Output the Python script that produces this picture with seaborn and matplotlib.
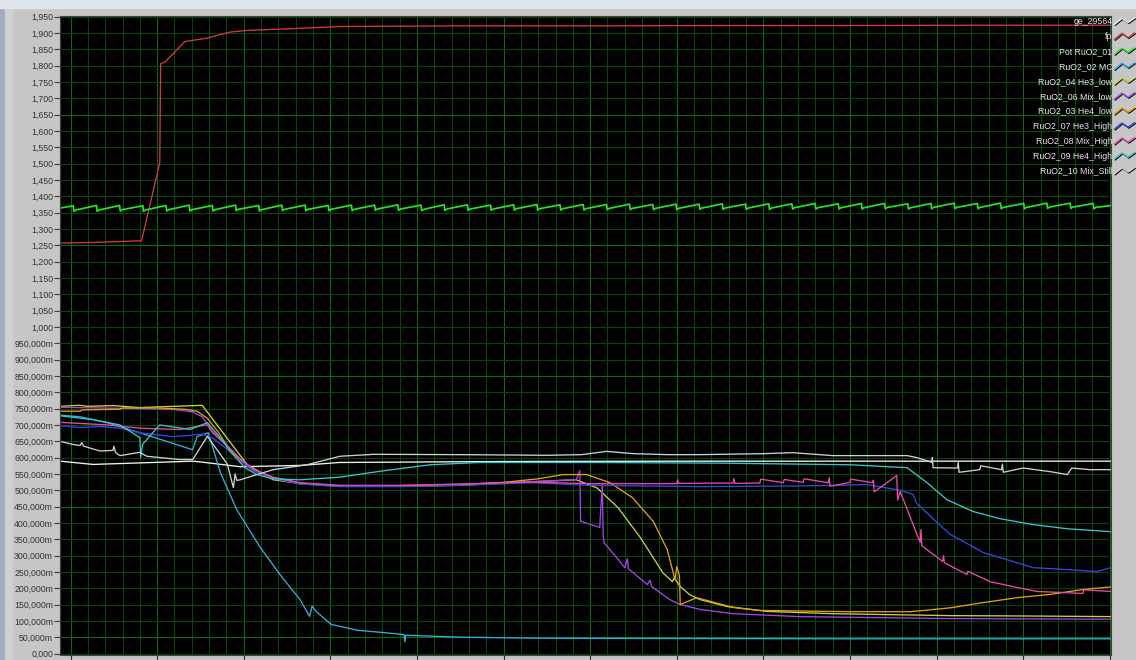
import numpy as np
import pandas as pd
import matplotlib
matplotlib.use("Agg")
import matplotlib.pyplot as plt
import matplotlib.patheffects as pe
from matplotlib.legend_handler import HandlerBase
from matplotlib.lines import Line2D
from matplotlib.patches import Rectangle
from matplotlib.ticker import MultipleLocator
import seaborn as sns

# time axis in minutes, one major division = 10 min
names = ['ge_29564', 'fp', 'Pot RuO2_01', 'RuO2_02 MC', 'RuO2_04 He3_low', 'RuO2_06 Mix_low',
         'RuO2_03 He4_low', 'RuO2_07 He3_High', 'RuO2_08 Mix_High', 'RuO2_09 He4_High',
         'RuO2_10 Mix_Still']
colors = ['#f2f2f2', '#d23a3a', '#22e622', '#36acdf', '#c6d43a', '#a242e8',
          '#e2a006', '#3446e4', '#e84aa8', '#36c6c6', '#cfcfcf']

ge_t = [-1.22, 2.6, 14.1, 15.2, 19.6, 26.5, 31.1, 50, 70, 90, 120.14]
ge_v = [0.589, 0.579, 0.589, 0.586, 0.572, 0.576, 0.585, 0.588, 0.589, 0.589, 0.589]

fp_t = [-1.22, 3.0, 8.2, 10.3, 10.4, 10.9, 13.2, 15.7, 18.4, 20.4, 26.0, 31.1, 45, 60, 75, 90, 105, 120.14]
fp_v = [1.257, 1.259, 1.264, 1.503, 1.806, 1.811, 1.874, 1.884, 1.903, 1.908, 1.914, 1.920,
        1.922, 1.922, 1.923, 1.923, 1.924, 1.924]

# Pot RuO2_01 sawtooth: tooth times, peak and trough values
pot_teeth = [0.31, 2.99, 5.66, 8.34, 11.02, 13.70, 16.37, 19.05, 21.73, 24.40, 27.08, 29.76,
             32.43, 35.11, 37.79, 40.46, 43.14, 45.82, 48.49, 51.17, 53.85, 56.52, 59.20,
             61.88, 64.55, 67.23, 69.91, 72.59, 75.26, 77.94, 80.62, 83.29, 85.97, 88.65,
             91.32, 94.00, 96.68, 99.35, 102.03, 104.71, 107.38, 110.06, 112.74, 115.41, 118.09]
pot_hi = [1.371, 1.372, 1.372, 1.371, 1.372, 1.373, 1.372, 1.373, 1.372, 1.373, 1.373, 1.372,
          1.373, 1.373, 1.374, 1.373, 1.374, 1.374, 1.373, 1.374, 1.375, 1.374, 1.375, 1.375,
          1.376, 1.375, 1.376, 1.376, 1.377, 1.376, 1.377, 1.377, 1.378, 1.377, 1.378, 1.378,
          1.377, 1.378, 1.379, 1.378, 1.379, 1.378, 1.379, 1.379, 1.378]
pot_lo = [1.358, 1.358, 1.359, 1.358, 1.359, 1.359, 1.359, 1.360, 1.359, 1.360, 1.360, 1.360,
          1.360, 1.361, 1.361, 1.360, 1.361, 1.361, 1.361, 1.362, 1.362, 1.362, 1.362, 1.363,
          1.363, 1.363, 1.363, 1.364, 1.364, 1.364, 1.364, 1.365, 1.365, 1.365, 1.365, 1.366,
          1.365, 1.366, 1.366, 1.366, 1.366, 1.366, 1.367, 1.367, 1.366]
pot_start, pot_end = 1.364, 1.372

mc_t = [-1.22, 1.1, 4.2, 8.0, 14.1, 14.6, 15.9, 17.3, 19.2, 21.9, 24.2, 26.5, 27.6, 27.9, 28.3,
        30.1, 33.2, 36.2, 38.5, 38.6, 38.7, 40.7, 45.1, 53.9, 70, 90, 120.14]
mc_v = [0.730, 0.725, 0.707, 0.676, 0.624, 0.664, 0.676, 0.554, 0.440, 0.325, 0.241, 0.165,
        0.114, 0.146, 0.130, 0.089, 0.071, 0.064, 0.058, 0.036, 0.056, 0.054, 0.050, 0.047,
        0.046, 0.045, 0.045]

he3low_t = [-1.22, 1.0, 2.0, 5.0, 8.0, 10.0, 12.0, 15.2, 20.4, 23.4, 26.5, 31.1, 38, 45, 50, 55,
            58.4, 60.8, 63.2, 65.8, 68.4, 69.5, 69.7, 70.4, 71.5, 72.7, 75.8, 80.4, 88.0,
            101.6, 110, 120.14]
he3low_v = [0.757, 0.760, 0.757, 0.759, 0.753, 0.755, 0.757, 0.760, 0.578, 0.532, 0.521, 0.513,
            0.512, 0.515, 0.522, 0.528, 0.532, 0.507, 0.447, 0.355, 0.247, 0.220, 0.232, 0.205,
            0.180, 0.165, 0.144, 0.129, 0.122, 0.116, 0.115, 0.113]

mixlow_t = [-1.22, 3, 8, 12, 14.1, 15.2, 16.4, 18.1, 19.6, 21.1, 23.4, 26.5, 31.1, 38, 45, 50, 55,
            58.4, 58.8, 58.9, 61.1, 61.4, 61.5, 61.6, 64.0, 64.3, 64.4, 66.6, 66.9, 67.1, 69.2,
            70.4, 72.7, 76.5, 84.2, 101.6, 110, 120.14]
mixlow_v = [0.754, 0.752, 0.750, 0.747, 0.740, 0.725, 0.680, 0.635, 0.594, 0.563, 0.539, 0.522,
            0.513, 0.513, 0.518, 0.524, 0.528, 0.533, 0.560, 0.405, 0.386, 0.520, 0.360, 0.340,
            0.263, 0.290, 0.260, 0.211, 0.225, 0.205, 0.165, 0.150, 0.135, 0.122, 0.113, 0.107,
            0.106, 0.105]

he4low_t = [-1.22, 1.1, 1.3, 5.7, 6.0, 10, 13.2, 14.6, 15.8, 17, 18.1, 19.6, 21.1, 23.4, 26.5,
            31.1, 38, 45, 50, 54, 56.9, 59.6, 62.3, 64.9, 67.3, 68.9, 69.8, 70.0, 70.3, 70.4,
            72.3, 76.5, 79.6, 90.0, 97.0, 101.6, 105.4, 109.3, 113.1, 116.9, 120.14]
he4low_v = [0.742, 0.742, 0.746, 0.748, 0.752, 0.752, 0.748, 0.742, 0.720, 0.680, 0.635, 0.590,
            0.560, 0.537, 0.520, 0.512, 0.514, 0.517, 0.524, 0.535, 0.548, 0.548, 0.523, 0.477,
            0.404, 0.318, 0.226, 0.266, 0.240, 0.150, 0.171, 0.141, 0.132, 0.128, 0.128, 0.140,
            0.156, 0.171, 0.181, 0.196, 0.204]

he3high_t = [-1.22, 1.1, 3.4, 5.7, 8.0, 11.8, 13.8, 15.2, 16.4, 18.1, 19.6, 21.1, 23.4, 26.5,
             31.1, 38, 45, 53.4, 60, 72.7, 84, 92, 95.8, 97.3, 97.7, 100.1, 101.6, 102.7, 105.4,
             109.3, 111.1, 115.1, 118.5, 120.14]
he3high_v = [0.698, 0.692, 0.695, 0.690, 0.676, 0.664, 0.668, 0.672, 0.660, 0.625, 0.590, 0.560,
             0.536, 0.519, 0.511, 0.511, 0.515, 0.523, 0.515, 0.511, 0.513, 0.517, 0.500, 0.487,
             0.460, 0.400, 0.364, 0.349, 0.309, 0.278, 0.263, 0.257, 0.251, 0.263]

mixhigh_t = [-1.22, 4.2, 8.0, 12.6, 15.0, 15.8, 16.4, 18.1, 19.6, 21.1, 23.4, 26.5, 31.1, 38, 45,
             53, 60, 70, 70.1, 70.2, 76.5, 76.6, 76.7, 79.6, 79.7, 82.3, 82.4, 84.6, 84.7, 87.5,
             87.6, 87.7, 90.0, 90.1, 92.6, 92.7, 92.8, 95.4, 95.5, 95.8, 98.1, 98.2, 98.3, 100.7,
             100.8, 100.9, 103.5, 103.6, 106.2, 108.8, 111.6, 114.3, 116.9, 117.0, 120.14]
mixhigh_v = [0.708, 0.700, 0.690, 0.686, 0.697, 0.700, 0.676, 0.636, 0.596, 0.565, 0.540, 0.523,
             0.515, 0.515, 0.519, 0.525, 0.520, 0.520, 0.532, 0.521, 0.522, 0.536, 0.521, 0.522,
             0.534, 0.523, 0.533, 0.524, 0.535, 0.523, 0.538, 0.512, 0.524, 0.534, 0.523, 0.531,
             0.495, 0.545, 0.470, 0.496, 0.340, 0.380, 0.330, 0.282, 0.300, 0.278, 0.242, 0.252,
             0.220, 0.205, 0.190, 0.187, 0.184, 0.195, 0.190]

he4high_t = [-1.22, 2.6, 5.7, 8.0, 8.1, 8.3, 10.3, 13.8, 15.8, 17.3, 18.4, 20.1, 21.5, 23.4, 26.5,
             31.1, 35.7, 41.5, 47.3, 60, 75, 90, 96.6, 98.9, 101.2, 104.2, 107.3, 111.1, 115.1,
             120.14]
he4high_v = [0.728, 0.716, 0.700, 0.661, 0.600, 0.640, 0.700, 0.686, 0.707, 0.660, 0.620, 0.570,
             0.548, 0.535, 0.532, 0.540, 0.558, 0.578, 0.585, 0.585, 0.583, 0.578, 0.569, 0.523,
             0.471, 0.435, 0.413, 0.395, 0.382, 0.373]

still_t = [-1.22, 0.3, 1.1, 1.3, 1.5, 3.4, 4.9, 5.0, 5.2, 5.7, 8.0, 8.8, 12.6, 14.1, 15.8, 18.1,
           18.8, 19.0, 19.2, 19.6, 21.5, 23.4, 27.3, 31.1, 35, 45, 55, 59, 61.9, 65, 68.9, 72.7,
           80, 83.4, 88.0, 96.6, 97.7, 99.5, 99.5, 99.6, 102.4, 102.5, 102.6, 105.0, 105.1,
           107.5, 107.6, 107.7, 110.0, 113.1, 115.1, 115.6, 117.7, 120.14]
still_v = [0.650, 0.640, 0.637, 0.646, 0.635, 0.620, 0.622, 0.635, 0.615, 0.606, 0.616, 0.604,
           0.594, 0.594, 0.665, 0.580, 0.508, 0.550, 0.530, 0.532, 0.548, 0.563, 0.578, 0.604,
           0.610, 0.609, 0.607, 0.609, 0.619, 0.612, 0.609, 0.609, 0.612, 0.615, 0.606, 0.606,
           0.600, 0.585, 0.600, 0.569, 0.568, 0.585, 0.555, 0.563, 0.575, 0.563, 0.580, 0.555,
           0.568, 0.557, 0.548, 0.568, 0.563, 0.563]

x_ticks = [0, 10, 20, 30, 40, 50, 60, 70, 80, 90, 100, 110, 120]
y_ticks = [0.00, 0.05, 0.10, 0.15, 0.20, 0.25, 0.30, 0.35, 0.40, 0.45, 0.50, 0.55, 0.60, 0.65,
           0.70, 0.75, 0.80, 0.85, 0.90, 0.95, 1.00, 1.05, 1.10, 1.15, 1.20, 1.25, 1.30, 1.35,
           1.40, 1.45, 1.50, 1.55, 1.60, 1.65, 1.70, 1.75, 1.80, 1.85, 1.90, 1.95]
y_tick_labels = ['0,000', '50,000m', '100,000m', '150,000m', '200,000m', '250,000m', '300,000m',
                 '350,000m', '400,000m', '450,000m', '500,000m', '550,000m', '600,000m',
                 '650,000m', '700,000m', '750,000m', '800,000m', '850,000m', '900,000m',
                 '950,000m', '1,000', '1,050', '1,100', '1,150', '1,200', '1,250', '1,300',
                 '1,350', '1,400', '1,450', '1,500', '1,550', '1,600', '1,650', '1,700', '1,750',
                 '1,800', '1,850', '1,900', '1,950']
y_bright = [0.05, 0.45, 0.85, 1.25, 1.65]

# build the sawtooth from the tooth table
pot_t = [-1.22]
pot_v = [pot_start]
for tk, hi, lo in zip(pot_teeth, pot_hi, pot_lo):
    pot_t += [tk, tk + 0.08, tk + 0.3]
    pot_v += [hi, lo - 0.004, lo]
pot_t.append(120.14)
pot_v.append(pot_end)

series = [(ge_t, ge_v), (fp_t, fp_v), (pot_t, pot_v), (mc_t, mc_v), (he3low_t, he3low_v),
          (mixlow_t, mixlow_v), (he4low_t, he4low_v), (he3high_t, he3high_v),
          (mixhigh_t, mixhigh_v), (he4high_t, he4high_v), (still_t, still_v)]
df = pd.concat([pd.DataFrame({'t': t, 'v': v, 'series': n}) for n, (t, v) in zip(names, series)],
               ignore_index=True)


class ZigzagHandler(HandlerBase):
    def create_artists(self, legend, orig_handle, xdescent, ydescent, width, height, fontsize, trans):
        xs = np.array([0.05, 0.4, 0.68, 0.98]) * width - xdescent
        ys = np.array([0.05, 0.85, 0.3, 0.9]) * height - ydescent
        ln = Line2D(xs, ys, color=orig_handle.get_color(), lw=0.9, transform=trans)
        ln.set_path_effects([pe.SimpleLineShadow(offset=(0.7, -0.7), shadow_color='black', alpha=0.9),
                             pe.Normal()])
        return [ln]


sns.set_style("dark")
plt.rcParams['font.family'] = ['Liberation Sans', 'DejaVu Sans']

fig = plt.figure(figsize=(11.36, 6.6), dpi=100, facecolor='#c6c6c6')
fig.add_artist(Rectangle((0, 0), 5 / 1136, 1, transform=fig.transFigure, color='#a3abc4', zorder=-2))
fig.add_artist(Rectangle((5 / 1136, 0), 7 / 1136, 1, transform=fig.transFigure, color='#d0d0d0', zorder=-2))
fig.add_artist(Rectangle((0, 1 - 8 / 660), 1, 8 / 660, transform=fig.transFigure, color='#dfe3ec', zorder=-1))

ax = fig.add_axes([60 / 1136, 5.5 / 660, 1051 / 1136, 639 / 660])
ax.set_facecolor('black')

sns.lineplot(data=df, x='t', y='v', hue='series', hue_order=names, palette=colors,
             estimator=None, sort=False, legend=False, lw=0.95, ax=ax)
ax.lines[2].set_linewidth(1.25)

ax.set_xlim(-1.22, 120.14)
ax.set_ylim(-0.003, 1.9537)
ax.set_xlabel('')
ax.set_ylabel('')

ax.set_xticks(x_ticks)
ax.set_xticklabels([])
ax.xaxis.set_minor_locator(MultipleLocator(2))
ax.set_yticks(y_ticks)
ax.set_yticklabels(y_tick_labels)
ax.yaxis.remove_overlapping_locs = False
ax.set_yticks(y_bright, minor=True)

minor_c, major_c = '#0a420a', '#0f680f'
ax.grid(False)
ax.grid(which='major', axis='x', color=major_c, lw=0.8)
ax.grid(which='minor', axis='x', color=minor_c, lw=0.8)
ax.grid(which='major', axis='y', color=minor_c, lw=0.8)
ax.grid(which='minor', axis='y', color=major_c, lw=0.8)
ax.set_axisbelow(True)

ax.tick_params(axis='x', which='major', direction='out', length=4, width=0.8, color='#303030', bottom=True)
ax.tick_params(axis='y', which='major', direction='out', length=4, width=0.8, color='#404040',
               labelsize=6.3, labelcolor='#333333', pad=1, left=True)
ax.tick_params(which='minor', length=0)
for sp in ax.spines.values():
    sp.set_color('#404040')
    sp.set_linewidth(0.8)

handles = [Line2D([], [], color=c) for c in colors]
ax.legend(handles, names, handler_map={Line2D: ZigzagHandler()}, loc='upper right',
          bbox_to_anchor=(1135 / 1136, 1 - 17 / 660), bbox_transform=fig.transFigure,
          frameon=False, markerfirst=False, fontsize=6.3, labelcolor='#e6e6e6',
          handlelength=2.5, handleheight=1.0, handletextpad=0.1, labelspacing=0.68,
          borderpad=0, borderaxespad=0)

fig.savefig('out.png', dpi=100, facecolor=fig.get_facecolor())
